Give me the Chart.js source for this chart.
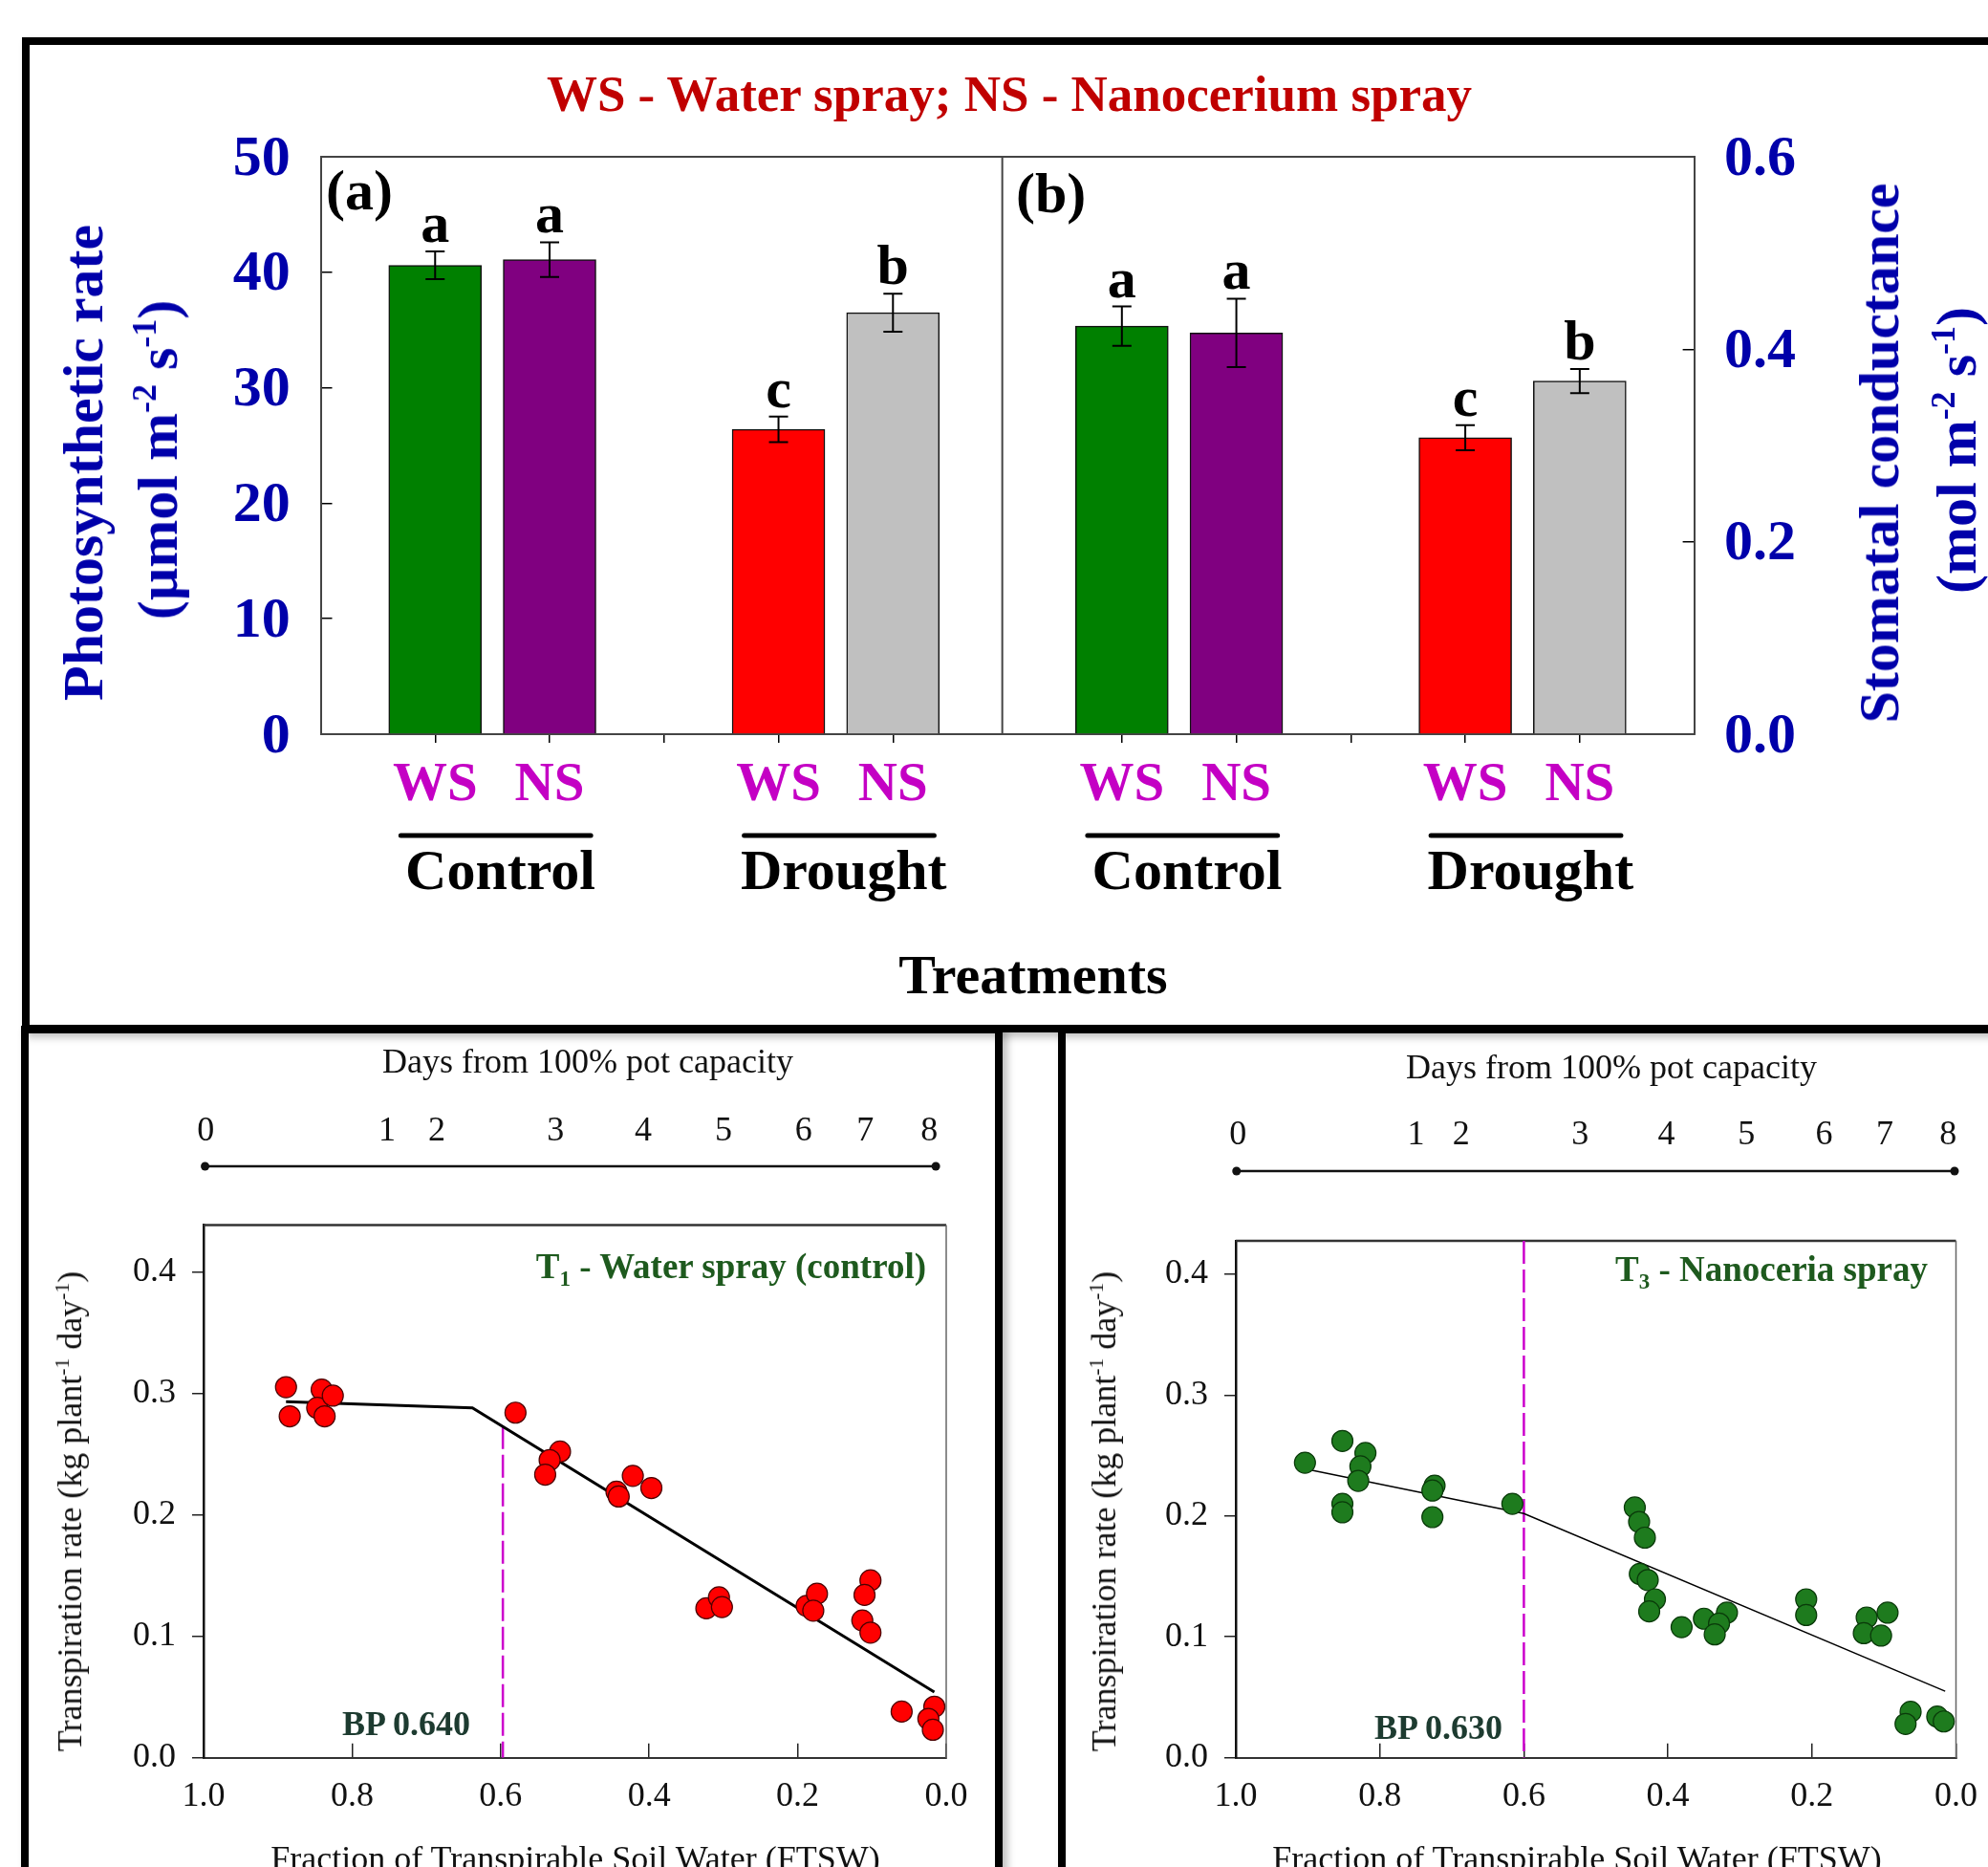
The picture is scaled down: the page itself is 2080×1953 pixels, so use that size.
<!DOCTYPE html>
<html>
<head>
<meta charset="utf-8">
<script src="https://cdn.jsdelivr.net/npm/chart.js@4.4.1/dist/chart.umd.min.js"></script>
<style>
html,body{margin:0;padding:0;background:#fff;}
body{width:2080px;height:1953px;position:relative;overflow:hidden;font-family:'Liberation Serif','Times New Roman',serif;}
canvas{position:absolute;}
.frame{position:absolute;border:8px solid #000;box-sizing:border-box;box-shadow:5px 5px 8px rgba(0,0,0,0.25);}
.t{position:absolute;white-space:nowrap;line-height:1;}
.c{transform:translate(-50%,-50%);}
.l{transform:translate(0,-50%);}
.r{transform:translate(-100%,-50%);}
.rot{transform:translate(-50%,-50%) rotate(-90deg);}
sup{font-size:60%;vertical-align:0;position:relative;top:-0.6em;}
sub{font-size:62%;vertical-align:0;position:relative;top:0.35em;}
</style>
</head>
<body>
<div class="frame" style="left:23px;top:39px;width:2200px;height:1041px;"></div>
<div class="frame" style="left:22px;top:1073px;width:1027px;height:1000px;"></div>
<div class="frame" style="left:1107px;top:1073px;width:1200px;height:1000px;"></div>

<canvas id="topChart" width="2080" height="1070" style="left:0;top:0;width:2080px;height:1070px;"></canvas>
<canvas id="leftChart" width="1100" height="873" style="left:0;top:1080px;width:1100px;height:873px;"></canvas>
<canvas id="rightChart" width="1100" height="873" style="left:1080px;top:1080px;width:1100px;height:873px;"></canvas>

<!-- top panel texts -->
<div class="t c" style="left:1056px;top:98px;font-weight:bold;font-size:53px;color:#C00000;">WS - Water spray; NS - Nanocerium spray</div>
<div class="t l" style="left:341px;top:199px;font-weight:bold;font-size:60px;color:#000;">(a)</div>
<div class="t l" style="left:1063px;top:202px;font-weight:bold;font-size:60px;color:#000;">(b)</div>
<div class="t rot" style="left:87px;top:484px;font-weight:bold;font-size:60px;color:#0000AA;">Photosynthetic rate</div>
<div class="t rot" style="left:165px;top:481px;font-weight:bold;font-size:60px;color:#0000AA;">(µmol m<sup>-2</sup> s<sup>-1</sup>)</div>
<div class="t rot" style="left:1966px;top:474px;font-weight:bold;font-size:60px;color:#0000AA;">Stomatal conductance</div>
<div class="t rot" style="left:2047px;top:471px;font-weight:bold;font-size:60px;color:#0000AA;">(mol m<sup>-2</sup> s<sup>-1</sup>)</div>
<div class="t c" style="left:1081px;top:1020px;font-weight:bold;font-size:58px;color:#000;">Treatments</div>

<!-- bottom panel texts -->
<div class="t c" style="left:615px;top:1110px;font-size:36px;color:#111;">Days from 100% pot capacity</div>
<div class="t c" style="left:1686px;top:1116px;font-size:36px;color:#111;">Days from 100% pot capacity</div>
<div class="t r" style="left:969px;top:1324px;font-weight:bold;font-size:37px;color:#1E5A1E;">T<sub>1</sub> - Water spray (control)</div>
<div class="t r" style="left:2017px;top:1327px;font-weight:bold;font-size:37px;color:#1E5A1E;">T<sub>3</sub> - Nanoceria spray</div>
<div class="t l" style="left:358px;top:1803px;font-weight:bold;font-size:36px;color:#1D3B30;">BP 0.640</div>
<div class="t l" style="left:1438px;top:1807px;font-weight:bold;font-size:36px;color:#1D3B30;">BP 0.630</div>
<div class="t rot" style="left:73px;top:1581px;font-size:36px;color:#111;">Transpiration rate (kg plant<sup>-1</sup> day<sup>-1</sup>)</div>
<div class="t rot" style="left:1155px;top:1581px;font-size:36px;color:#111;">Transpiration rate (kg plant<sup>-1</sup> day<sup>-1</sup>)</div>
<div class="t c" style="left:602px;top:1944px;font-size:36px;color:#111;">Fraction of Transpirable Soil Water (FTSW)</div>
<div class="t c" style="left:1650px;top:1944px;font-size:36px;color:#111;">Fraction of Transpirable Soil Water (FTSW)</div>

<script>
// ================= DATA =================
const treatments = ['WS', 'NS', 'WS', 'NS'];
const groups = ['Control', 'Drought'];

// Panel (a): photosynthetic rate (µmol m-2 s-1)
const photosynthRate = [40.6, 41.1, 26.4, 36.5];
const photosynthErr = [1.2, 1.5, 1.1, 1.65];
const photosynthLetters = ['a', 'a', 'c', 'b'];

// Panel (b): stomatal conductance (mol m-2 s-1)
const stomatalCond = [0.424, 0.417, 0.308, 0.367];
const stomatalErr = [0.0205, 0.0355, 0.013, 0.0125];
const stomatalLetters = ['a', 'a', 'c', 'b'];

// Days from 100% pot capacity and the FTSW they correspond to
const dayLabels = ['0', '1', '2', '3', '4', '5', '6', '7', '8'];
const t1DayFtsw = [0.997, 0.753, 0.686, 0.526, 0.408, 0.300, 0.192, 0.109, 0.023];
const t3DayFtsw = [0.997, 0.750, 0.687, 0.522, 0.402, 0.291, 0.183, 0.099, 0.011];

// T1 - Water spray (control): observations
const t1Ftsw  = [0.889, 0.884, 0.841, 0.847, 0.837, 0.826, 0.580, 0.520, 0.534, 0.540, 0.444, 0.441, 0.422, 0.397,
                 0.323, 0.306, 0.302, 0.188, 0.174, 0.179, 0.102, 0.110, 0.113, 0.102, 0.060, 0.016, 0.024, 0.018];
const t1Trans = [0.305, 0.281, 0.303, 0.288, 0.281, 0.298, 0.284, 0.252, 0.245, 0.233, 0.219, 0.215, 0.232, 0.222,
                 0.123, 0.132, 0.124, 0.125, 0.135, 0.121, 0.146, 0.134, 0.113, 0.103, 0.038, 0.042, 0.032, 0.023];
// T1 segmented fit
const t1FitFtsw  = [0.889, 0.638, 0.016];
const t1FitTrans = [0.293, 0.288, 0.054];
const t1BpFtsw = 0.597, t1BpTrans = 0.273;

// T3 - Nanoceria spray: observations
const t3Ftsw  = [0.904, 0.852, 0.820, 0.827, 0.830, 0.852, 0.852, 0.724, 0.727, 0.727, 0.616,
                 0.446, 0.440, 0.432, 0.439, 0.428, 0.418, 0.426, 0.381, 0.350, 0.318, 0.329, 0.335,
                 0.208, 0.208, 0.124, 0.128, 0.104, 0.095, 0.063, 0.070, 0.026, 0.017];
const t3Trans = [0.244, 0.262, 0.252, 0.241, 0.229, 0.210, 0.203, 0.225, 0.221, 0.199, 0.210,
                 0.207, 0.195, 0.182, 0.152, 0.147, 0.131, 0.121, 0.108, 0.115, 0.120, 0.111, 0.102,
                 0.131, 0.118, 0.116, 0.103, 0.101, 0.120, 0.038, 0.028, 0.034, 0.030];
// T3 segmented fit
const t3FitFtsw  = [0.904, 0.600, 0.015];
const t3FitTrans = [0.239, 0.202, 0.055];
const t3BpFtsw = 0.600;

// ================= STYLE / LAYOUT =================
Chart.defaults.font.family = "'Liberation Serif','Times New Roman',serif";
const BLUE = '#0000AA', MAGENTA = '#C400C4';
const barColors = ['#008000', '#800080', '#FF0000', '#C0C0C0'];

const slotOf = i => i + 1 + Math.floor(i / 2);      // WS,NS | gap | WS,NS
const barPoints = (vals, p) => vals.map((v, i) => ({x: p * 6 + slotOf(i), y: v}));
const tickSlots = [0, 1].flatMap(p => [1, 2, 3, 4, 5].map(k => p * 6 + k));
const groupCenters = [0, 1].flatMap(p => [0, 1].map(g => p * 6 + g * 3 + 1.57));

function slotLabel(v) {
  const k = Math.round(v) % 6;
  if (k === 3) return '';
  const i = k < 3 ? k - 1 : k - 2;
  return treatments[i];
}

const topDecor = {
  id: 'topDecor',
  afterDatasetsDraw(chart) {
    const ctx = chart.ctx, a = chart.chartArea, xs = chart.scales.x;
    ctx.save();
    // frame
    ctx.strokeStyle = '#444'; ctx.lineWidth = 2;
    ctx.beginPath();
    ctx.moveTo(a.left, a.top); ctx.lineTo(a.right, a.top);
    const dx = xs.getPixelForValue(5.955);
    ctx.moveTo(dx, a.top); ctx.lineTo(dx, a.bottom);
    ctx.stroke();
    // error bars + letters
    const panels = [
      {vals: photosynthRate, errs: photosynthErr, letters: photosynthLetters, ys: chart.scales.y, p: 0},
      {vals: stomatalCond, errs: stomatalErr, letters: stomatalLetters, ys: chart.scales.y2, p: 1}
    ];
    ctx.strokeStyle = '#000'; ctx.fillStyle = '#000'; ctx.lineWidth = 2;
    ctx.font = "bold 60px 'Liberation Serif'"; ctx.textAlign = 'center'; ctx.textBaseline = 'alphabetic';
    panels.forEach(P => {
      P.vals.forEach((v, i) => {
        const x = xs.getPixelForValue(P.p * 6 + slotOf(i));
        const yt = P.ys.getPixelForValue(v + P.errs[i]);
        const yb = P.ys.getPixelForValue(v - P.errs[i]);
        ctx.beginPath();
        ctx.moveTo(x, yt); ctx.lineTo(x, yb);
        ctx.moveTo(x - 10, yt); ctx.lineTo(x + 10, yt);
        ctx.moveTo(x - 10, yb); ctx.lineTo(x + 10, yb);
        ctx.stroke();
        ctx.fillText(P.letters[i], x, yt - 10);
      });
    });
    // group underline bars
    const gs = chart.scales.xg;
    ctx.lineWidth = 5; ctx.lineCap = 'round';
    [0, 1].forEach(p => [0, 1].forEach(g => {
      const s = p * 6 + g * 3 + 1;
      ctx.beginPath();
      ctx.moveTo(xs.getPixelForValue(s - 0.3), gs.top + 16);
      ctx.lineTo(xs.getPixelForValue(s + 1.36), gs.top + 16);
      ctx.stroke();
    }));
    ctx.restore();
  }
};

new Chart(document.getElementById('topChart'), {
  type: 'bar',
  data: {
    datasets: [
      {data: barPoints(photosynthRate, 0), xAxisID: 'x', yAxisID: 'y', backgroundColor: barColors,
       borderColor: '#111', borderWidth: 1.5, barThickness: 97, grouped: false},
      {data: barPoints(stomatalCond, 1), xAxisID: 'x', yAxisID: 'y2', backgroundColor: barColors,
       borderColor: '#111', borderWidth: 1.5, barThickness: 97, grouped: false}
    ]
  },
  options: {
    responsive: false, animation: false, devicePixelRatio: 1,
    layout: {padding: {left: 0, right: 0, top: 164, bottom: 62}},
    plugins: {legend: {display: false}, tooltip: {enabled: false}},
    scales: {
      x: {
        type: 'linear', position: 'bottom', min: 0, max: 12, weight: 0, offset: false,
        afterBuildTicks: s => { s.ticks = tickSlots.map(v => ({value: v})); },
        afterFit: s => { s.height = 90; },
        grid: {offset: false, drawOnChartArea: false, drawTicks: true, tickLength: 9, color: '#000', lineWidth: 1.5},
        border: {display: true, color: '#444', width: 2},
        ticks: {autoSkip: false, maxRotation: 0, padding: 11.5, color: MAGENTA,
                font: {size: 57, weight: 'bold'}, callback: v => slotLabel(v)}
      },
      xg: {
        type: 'linear', position: 'bottom', min: 0, max: 12, weight: 1, offset: false,
        afterBuildTicks: s => { s.ticks = groupCenters.map(v => ({value: v})); },
        afterFit: s => { s.height = 150; },
        grid: {offset: false, display: false, drawTicks: false, tickLength: 0},
        border: {display: false},
        ticks: {autoSkip: false, maxRotation: 0, padding: 20.5, color: '#000',
                font: {size: 60, weight: 'bold'}, callback: (v, i) => groups[i % 2]}
      },
      y: {
        type: 'linear', position: 'left', min: 0, max: 50,
        afterFit: s => { s.width = 335.5; },
        grid: {drawOnChartArea: false, drawTicks: true, tickLength: -12, color: '#000', lineWidth: 1.5},
        border: {display: true, color: '#444', width: 2},
        ticks: {stepSize: 10, padding: 43.8, labelOffset: 3, color: BLUE, font: {size: 60, weight: 'bold'}}
      },
      y2: {
        type: 'linear', position: 'right', min: 0, max: 0.6,
        afterFit: s => { s.width = 2080 - 1772.6; },
        grid: {drawOnChartArea: false, drawTicks: true, tickLength: -12, color: '#000', lineWidth: 1.5},
        border: {display: true, color: '#444', width: 2},
        ticks: {stepSize: 0.2, padding: 43.4, labelOffset: 3, color: BLUE, font: {size: 60, weight: 'bold'},
                callback: v => v.toFixed(1)}
      }
    }
  },
  plugins: [topDecor]
});

function transChart(id, cfg) {
  const decor = {
    id: 'decor' + id,
    beforeDatasetsDraw(chart) {
      const ctx = chart.ctx, a = chart.chartArea;
      ctx.save();
      ctx.strokeStyle = '#333'; ctx.lineWidth = 2.5;
      ctx.beginPath(); ctx.moveTo(a.left, a.top); ctx.lineTo(a.right, a.top); ctx.stroke();
      ctx.strokeStyle = '#666'; ctx.lineWidth = 1.5;
      ctx.beginPath(); ctx.moveTo(a.right, a.top); ctx.lineTo(a.right, a.bottom); ctx.stroke();
      // days axis line with end dots
      const s = chart.scales.xd;
      const y = s.bottom - cfg.dayLineOffset;
      const x1 = s.getPixelForValue(cfg.dayLine[0]), x2 = s.getPixelForValue(cfg.dayLine[1]);
      ctx.strokeStyle = '#111'; ctx.fillStyle = '#111'; ctx.lineWidth = 2.5;
      ctx.beginPath(); ctx.moveTo(x1, y); ctx.lineTo(x2, y); ctx.stroke();
      [x1, x2].forEach(x => { ctx.beginPath(); ctx.arc(x, y, 4.5, 0, Math.PI * 2); ctx.fill(); });
      ctx.restore();
    }
  };
  return new Chart(document.getElementById(id), {
    type: 'scatter',
    data: {
      datasets: [
        {type: 'scatter', data: cfg.ftsw.map((x, i) => ({x, y: cfg.trans[i]})), order: 1,
         pointRadius: 11, pointBackgroundColor: cfg.fill, pointBorderColor: cfg.edge, pointBorderWidth: 1.2},
        {type: 'line', data: cfg.fitX.map((x, i) => ({x, y: cfg.fitY[i]})), order: 2,
         borderColor: '#000', borderWidth: cfg.fitWidth, pointRadius: 0, fill: false, tension: 0},
        {type: 'line', data: [{x: cfg.bpX, y: cfg.bpTop}, {x: cfg.bpX, y: 0}], order: 3,
         borderColor: '#CC00CC', borderWidth: 2.5, borderDash: [24, 6], pointRadius: 0, fill: false}
      ]
    },
    options: {
      responsive: false, animation: false, devicePixelRatio: 1,
      layout: {padding: {left: 0, right: cfg.padRight, top: 0, bottom: 0}},
      plugins: {legend: {display: false}, tooltip: {enabled: false}},
      scales: {
        x: {
          type: 'linear', position: 'bottom', reverse: true, min: 0, max: 1,
          afterFit: s => { s.height = 114.3; },
          grid: {drawOnChartArea: false, drawTicks: true, tickLength: -15, color: '#222', lineWidth: 1.5},
          border: {display: true, color: '#333', width: 2},
          ticks: {stepSize: 0.2, padding: 34.7, color: '#111', font: {size: 36},
                  maxRotation: 0, callback: v => v.toFixed(1)}
        },
        xd: {
          type: 'linear', position: 'top', reverse: true, min: 0, max: 1,
          afterBuildTicks: s => { s.ticks = cfg.days.map(v => ({value: v})); },
          afterFit: s => { s.height = cfg.topH; },
          grid: {display: false, drawTicks: false, tickLength: 0},
          border: {display: false},
          ticks: {autoSkip: false, maxRotation: 0, padding: cfg.dayPad, color: '#111', font: {size: 36},
                  callback: (v, i) => dayLabels[i]}
        },
        y: {
          type: 'linear', position: 'left', min: 0, max: cfg.yMax,
          afterFit: s => { s.width = 213; },
          grid: {drawOnChartArea: false, drawTicks: true, tickLength: 12, color: '#222', lineWidth: 1.5},
          border: {display: true, color: '#111', width: 2.5},
          ticks: {stepSize: 0.1, includeBounds: false, padding: 17, color: '#111', font: {size: 36},
                  callback: v => v.toFixed(1)}
        }
      }
    },
    plugins: [decor]
  });
}

transChart('leftChart', {
  ftsw: t1Ftsw, trans: t1Trans, fitX: t1FitFtsw, fitY: t1FitTrans, fitWidth: 3,
  bpX: t1BpFtsw, bpTop: t1BpTrans, fill: '#FF0000', edge: '#4A0000',
  yMax: 0.4385, topH: 201.4, dayPad: 75.8, dayLineOffset: 61.4, days: t1DayFtsw, dayLine: [0.998, 0.014],
  padRight: 110
});
transChart('rightChart', {
  ftsw: t3Ftsw, trans: t3Trans, fitX: t3FitFtsw, fitY: t3FitTrans, fitWidth: 1.5,
  bpX: t3BpFtsw, bpTop: 0.4275, fill: '#1E7B1E', edge: '#0A3A0A',
  yMax: 0.4275, topH: 218, dayPad: 88.4, dayLineOffset: 73, days: t3DayFtsw, dayLine: [0.999, 0.002],
  padRight: 133.5
});
</script>
</body>
</html>
